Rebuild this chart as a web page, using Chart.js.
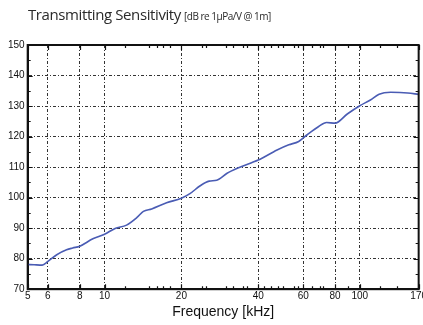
<!DOCTYPE html>
<html>
<head>
<meta charset="utf-8">
<script src="https://cdn.jsdelivr.net/npm/chart.js@4.4.1/dist/chart.umd.min.js"></script>
<style>
  html, body { margin: 0; padding: 0; background: #fff; overflow: hidden; }
  #wrap { position: relative; width: 423px; height: 325px; overflow: hidden; }
  #title { position: absolute; left: 28px; top: 3px; font-family: "Open Sans", "Noto Sans", sans-serif; color: #2a2a2a; white-space: nowrap; }
  #title .main { font-size: 15px; letter-spacing: -0.4px; }
  #title .unit { font-size: 10px; letter-spacing: -0.5px; margin-left: 1px; }
  #chart-box { position: absolute; left: 0; top: 0; width: 428px; height: 325px; }
</style>
</head>
<body>
<div id="wrap">
  <div id="chart-box"><canvas id="chart"></canvas></div>
  <div id="title"><span class="main">Transmitting Sensitivity</span><span class="unit"> [dB re 1µPa/V @ 1m]</span></div>
</div>
<script>
const freqKHz = [5, 5.3, 5.7, 6, 6.5, 7.1, 7.5, 8, 9, 10, 11, 12.2, 13.4, 14.2, 15.3, 17.5, 20, 21.6, 23.7, 25.7, 27.5, 30.2, 33.5, 40, 47.4, 52.7, 57.6, 62.2, 69, 74, 80, 89.3, 100, 110, 119, 132, 154, 170];
const sensDb = [78.1, 78.0, 77.9, 79.1, 81.3, 82.9, 83.5, 84.1, 86.5, 88.0, 89.9, 91.0, 93.5, 95.5, 96.3, 98.3, 99.8, 101.3, 103.9, 105.4, 105.7, 108.0, 109.8, 112.3, 115.6, 117.3, 118.4, 120.6, 123.3, 124.6, 124.4, 127.4, 130.1, 132.0, 133.9, 134.5, 134.3, 133.8];

const xTicks = [5, 6, 8, 10, 20, 40, 60, 80, 100, 170];
const xMinorTicks = [12, 15, 16, 17, 18, 24, 25, 30, 32, 35, 36, 42, 45, 48, 50, 55, 57, 65, 70, 72, 90, 120, 140];
const yTicks = [70, 80, 90, 100, 110, 120, 130, 140, 150];
const yMinorTicks = [75, 85, 95, 105, 115, 125, 135, 145];

const points = freqKHz.map((f, i) => ({ x: f, y: sensDb[i] }));

// inward tick marks on all four sides, like the original plot
const innerTicks = {
  id: 'innerTicks',
  afterDraw(chart) {
    const { ctx, chartArea: a, scales } = chart;
    ctx.save();
    ctx.strokeStyle = '#111';
    ctx.lineWidth = 1.2;
    const mark = (ticks, len, horiz) => {
      ticks.forEach(v => {
        if (horiz) {
          const px = Math.round(scales.x.getPixelForValue(v)) + 0.5;
          ctx.beginPath();
          ctx.moveTo(px, a.bottom); ctx.lineTo(px, a.bottom - len);
          ctx.moveTo(px, a.top); ctx.lineTo(px, a.top + len);
          ctx.stroke();
        } else {
          const py = Math.round(scales.y.getPixelForValue(v)) + 0.5;
          ctx.beginPath();
          ctx.moveTo(a.left, py); ctx.lineTo(a.left + len, py);
          ctx.moveTo(a.right, py); ctx.lineTo(a.right - len, py);
          ctx.stroke();
        }
      });
    };
    mark(xTicks, 5, true);
    mark(xMinorTicks, 3, true);
    mark(yTicks, 5, false);
    mark(yMinorTicks, 3, false);
    ctx.restore();
  }
};

const gridDash = [3, 2, 1, 2];

new Chart(document.getElementById('chart'), {
  type: 'line',
  data: {
    datasets: [{
      data: points,
      borderColor: '#4a5cb4',
      borderWidth: 1.6,
      pointRadius: 0,
      cubicInterpolationMode: 'monotone',
      fill: false,
    }]
  },
  options: {
    responsive: true,
    maintainAspectRatio: false,
    animation: false,
    layout: { padding: { top: 45, left: 5, right: 0, bottom: 4 } },
    plugins: { legend: { display: false }, tooltip: { enabled: false } },
    scales: {
      x: {
        type: 'logarithmic',
        min: 5,
        max: 170,
        afterBuildTicks: s => { s.ticks = xTicks.map(v => ({ value: v })); },
        ticks: {
          autoSkip: false,
          maxRotation: 0,
          color: '#111',
          font: { family: 'Liberation Sans, Arial, sans-serif', size: 10 },
          padding: 1,
          callback: v => String(v),
        },
        grid: {
          color: c => (c.tick && (c.tick.value === 5 || c.tick.value === 170)) ? 'rgba(0,0,0,0)' : '#333',
          lineWidth: 1,
          drawTicks: false,
        },
        border: { display: true, color: '#111', width: 2, dash: gridDash },
        title: {
          display: true,
          text: 'Frequency [kHz]',
          color: '#111',
          font: { family: 'Liberation Sans, Arial, sans-serif', size: 14 },
          padding: { top: 1, bottom: 0 },
        },
      },
      y: {
        min: 70,
        max: 150,
        afterBuildTicks: s => { s.ticks = yTicks.map(v => ({ value: v })); },
        ticks: {
          color: '#111',
          font: { family: 'Liberation Sans, Arial, sans-serif', size: 10 },
          padding: 3,
        },
        grid: {
          color: c => (c.tick && (c.tick.value === 70 || c.tick.value === 150)) ? 'rgba(0,0,0,0)' : '#333',
          lineWidth: 1,
          drawTicks: false,
        },
        border: { display: true, color: '#111', width: 2, dash: gridDash },
      }
    }
  },
  plugins: [innerTicks, {
    id: 'frame',
    afterDraw(chart) {
      const { ctx, chartArea: a } = chart;
      ctx.save();
      ctx.strokeStyle = '#111';
      ctx.lineWidth = 2;
      ctx.strokeRect(a.left, a.top, a.right - a.left, a.bottom - a.top);
      ctx.restore();
    }
  }]
});
</script>
</body>
</html>
